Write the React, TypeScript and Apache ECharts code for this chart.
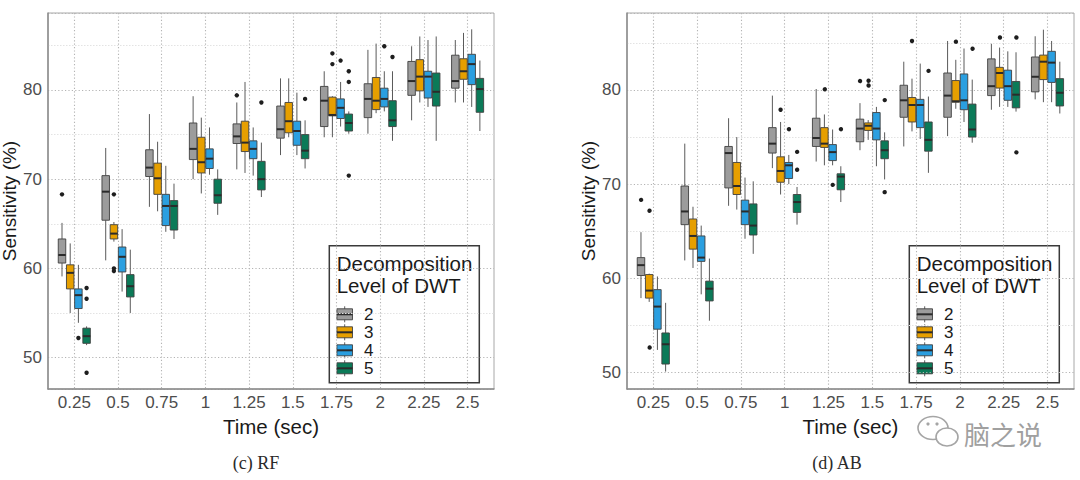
import React, { useEffect, useRef } from 'react';
import * as echarts from 'echarts';

// ---------- data ----------
const times = ['0.25', '0.5', '0.75', '1', '1.25', '1.5', '1.75', '2', '2.25', '2.5'];
const levels = ['2', '3', '4', '5'];
const levelColors = ['#9c9c9c', '#e69f00', '#2b9fe0', '#0b7a58'];

// each row: [lower whisker, Q1, median, Q3, upper whisker]
const rfLevel2 = [
  [59.1, 60.6, 61.5, 63.3, 65.1], [60.9, 65.4, 68.6, 70.4, 73.5], [66.9, 70.3, 71.3, 73.3, 77.3],
  [70.0, 72.2, 73.4, 76.3, 79.3], [71.1, 74.0, 74.8, 76.2, 78.6], [72.7, 74.6, 75.6, 78.2, 81.3],
  [74.7, 75.9, 78.8, 80.4, 82.1], [75.1, 76.9, 79.0, 80.7, 84.5], [76.6, 79.4, 81.0, 83.2, 84.9],
  [78.6, 80.2, 81.0, 83.9, 85.6],
];
const rfLevel3 = [
  [55.0, 57.7, 59.5, 60.4, 62.8], [63.0, 63.3, 63.9, 64.9, 65.2], [66.4, 68.3, 70.1, 71.8, 74.2],
  [68.4, 70.7, 71.9, 74.7, 76.9], [70.7, 73.1, 74.1, 76.5, 80.9], [74.7, 75.2, 76.5, 78.6, 81.3],
  [74.7, 77.1, 77.2, 79.2, 79.3], [77.4, 77.8, 78.8, 81.4, 85.2], [78.6, 79.9, 81.5, 83.4, 86.0],
  [78.6, 81.2, 82.1, 83.5, 86.4],
];
const rfLevel4 = [
  [53.9, 55.5, 57.0, 57.7, 60.4], [57.4, 59.6, 61.3, 62.4, 64.4], [64.1, 64.8, 67.0, 68.3, 71.5],
  [70.5, 71.2, 72.3, 73.4, 75.8], [70.4, 72.3, 73.4, 74.3, 75.8], [72.7, 73.8, 75.4, 76.5, 79.7],
  [75.9, 76.8, 78.0, 79.0, 80.9], [77.6, 78.1, 79.0, 80.2, 82.1], [78.1, 79.1, 81.5, 82.1, 85.6],
  [78.1, 80.6, 82.9, 84.0, 86.8],
];
const rfLevel5 = [
  [51.4, 51.6, 52.4, 53.3, 53.5], [55.0, 56.8, 58.0, 59.3, 62.1], [63.3, 64.3, 67.0, 67.6, 69.5],
  [66.0, 67.3, 68.2, 70.0, 71.1], [68.0, 68.8, 70.0, 72.0, 74.1], [71.2, 72.3, 73.2, 75.0, 76.6],
  [75.1, 75.4, 76.3, 77.3, 77.6], [74.3, 75.9, 76.6, 78.8, 82.1], [74.3, 78.2, 79.8, 81.9, 86.0],
  [75.4, 77.5, 80.1, 81.3, 83.3],
];
// [time index, level index, value]
const rfOutliers = [
  [0, 0, 68.3], [0, 2, 52.2], [0, 3, 57.8], [0, 3, 56.6], [0, 3, 48.3],
  [1, 1, 68.3], [1, 1, 60.0], [1, 1, 59.7],
  [4, 0, 79.4], [4, 3, 78.6], [5, 3, 79.0],
  [6, 1, 84.1], [6, 1, 82.9], [6, 2, 83.3], [6, 3, 82.1], [6, 3, 80.9], [6, 3, 70.4],
  [7, 2, 84.9], [7, 3, 83.7],
];

const abLevel2 = [
  [57.9, 60.3, 61.4, 62.2, 64.9], [61.9, 65.7, 67.1, 69.8, 74.3], [67.7, 69.6, 73.3, 74.0, 77.0],
  [71.7, 73.3, 74.3, 76.0, 79.4], [72.4, 74.0, 74.9, 77.0, 80.1], [73.6, 74.5, 75.9, 76.9, 78.6],
  [74.0, 77.1, 78.9, 80.5, 83.0], [75.1, 77.1, 79.4, 81.8, 85.2], [77.9, 79.4, 80.4, 83.3, 84.9],
  [79.0, 79.8, 81.4, 83.5, 85.7],
];
const abLevel3 = [
  [57.5, 57.9, 58.7, 60.4, 60.5], [61.1, 63.1, 64.5, 66.3, 67.6], [67.3, 68.9, 69.8, 72.3, 75.0],
  [68.9, 70.2, 71.4, 72.9, 76.6], [72.0, 73.9, 74.3, 76.0, 77.4], [74.7, 75.7, 76.2, 76.5, 76.8],
  [75.6, 76.6, 78.4, 79.2, 81.2], [78.0, 78.7, 78.8, 81.0, 83.2], [78.2, 80.2, 81.8, 82.4, 84.5],
  [78.7, 81.1, 83.0, 83.7, 86.4],
];
const abLevel4 = [
  [52.4, 54.6, 57.0, 58.8, 60.2], [58.3, 61.8, 62.2, 64.5, 65.6], [64.2, 65.7, 67.1, 68.3, 70.7],
  [70.0, 70.6, 72.0, 72.3, 73.1], [72.0, 72.5, 73.4, 74.2, 75.8], [71.9, 74.7, 75.9, 77.6, 78.2],
  [74.8, 76.0, 78.4, 79.0, 82.8], [76.6, 77.9, 78.9, 81.7, 84.4], [78.2, 78.9, 80.4, 82.1, 84.1],
  [78.7, 80.8, 82.9, 84.1, 85.2],
];
const abLevel5 = [
  [50.1, 50.9, 53.0, 54.2, 57.4], [55.5, 57.6, 58.9, 59.7, 62.1], [62.6, 64.6, 65.6, 67.9, 70.3],
  [65.7, 67.0, 68.1, 68.9, 69.7], [68.1, 69.4, 70.8, 71.1, 71.9], [70.5, 72.7, 73.6, 74.6, 75.5],
  [71.2, 73.5, 74.7, 76.6, 79.3], [74.4, 75.0, 75.8, 78.5, 81.1], [77.7, 78.1, 79.5, 80.9, 84.0],
  [77.5, 78.3, 79.7, 81.2, 83.0],
];
const abOutliers = [
  [0, 0, 68.4], [0, 1, 67.3], [0, 1, 52.8],
  [3, 1, 77.9], [3, 2, 75.9], [3, 3, 73.5], [3, 3, 71.6],
  [4, 1, 80.2], [4, 2, 70.0], [4, 3, 75.9],
  [5, 0, 81.0], [5, 1, 81.1], [5, 1, 80.6], [5, 3, 79.0], [5, 3, 69.2],
  [6, 1, 85.2], [6, 3, 82.1], [7, 1, 85.2], [7, 3, 84.5],
  [8, 1, 85.7], [8, 3, 85.7], [8, 3, 73.5],
];

const rfYRange = [46.48, 88.63];
const abYRange = [48.25, 88.17];
const yTitle = 'Sensitivity (%)';
const xTitle = 'Time (sec)';
const legendTitle = ['Decomposition', 'Level of DWT'];
const captions = ['(c) RF', '(d) AB'];

// ---------- styling ----------
const FONT = 'Liberation Sans, Arial, Helvetica, sans-serif';
const DODGE = 0.1875; // box width as a fraction of category spacing
const majorGrid = { color: '#b4b4b4', width: 1.1, type: [1.2, 2.2] as any };
const minorGrid = { color: '#e3e3e3', width: 1, type: [1.5, 1.5] as any };

const boxRenderer = (level: number) => (_params: any, api: any) => {
  const i = api.value(0);
  const lo = api.coord([i, api.value(1)]);
  const q1 = api.coord([i, api.value(2)]);
  const md = api.coord([i, api.value(3)]);
  const q3 = api.coord([i, api.value(4)]);
  const hi = api.coord([i, api.value(5)]);
  const step = api.coord([1, 0])[0] - api.coord([0, 0])[0];
  const w = step * DODGE;
  const cx = lo[0] + (level - 1.5) * w;
  const x0 = cx - w / 2 + 0.35;
  const bw = w - 0.7;
  return {
    type: 'group',
    children: [
      { type: 'line', shape: { x1: cx, y1: hi[1], x2: cx, y2: q3[1] }, style: { stroke: '#5a5a5a', lineWidth: 1 } },
      { type: 'line', shape: { x1: cx, y1: q1[1], x2: cx, y2: lo[1] }, style: { stroke: '#5a5a5a', lineWidth: 1 } },
      {
        type: 'rect',
        shape: { x: x0, y: q3[1], width: bw, height: q1[1] - q3[1] },
        style: { fill: levelColors[level], stroke: '#404040', lineWidth: 0.9 },
      },
      { type: 'line', shape: { x1: x0, y1: md[1], x2: x0 + bw, y2: md[1] }, style: { stroke: '#2b2b2b', lineWidth: 2 } },
    ],
  };
};

const outlierRenderer = (_params: any, api: any) => {
  const i = api.value(0);
  const l = api.value(1);
  const p = api.coord([i, api.value(2)]);
  const step = api.coord([1, 0])[0] - api.coord([0, 0])[0];
  const cx = p[0] + (l - 1.5) * step * DODGE;
  return { type: 'circle', shape: { cx, cy: p[1], r: 2.2 }, style: { fill: '#1e1e1e' } };
};

function legendGroup(x: number, y: number) {
  const children: any[] = [
    { type: 'rect', shape: { x: 0, y: 0, width: 150, height: 137 }, style: { fill: '#fff', stroke: '#3a3a3a', lineWidth: 1.5 } },
    { type: 'text', x: 7.4, y: 17.5, style: { text: legendTitle[0], font: `20.5px ${FONT}`, fill: '#1a1a1a', textVerticalAlign: 'middle' } },
    { type: 'text', x: 7.4, y: 39.5, style: { text: legendTitle[1], font: `20.5px ${FONT}`, fill: '#1a1a1a', textVerticalAlign: 'middle' } },
  ];
  levels.forEach((lv, k) => {
    const cy = 68.6 + k * 18;
    children.push(
      { type: 'line', shape: { x1: 15.4, y1: cy - 8, x2: 15.4, y2: cy + 8 }, style: { stroke: '#5a5a5a', lineWidth: 1 } },
      { type: 'rect', shape: { x: 7.6, y: cy - 5.5, width: 15.6, height: 11 }, style: { fill: levelColors[k], stroke: '#404040', lineWidth: 0.9 } },
      { type: 'line', shape: { x1: 7.6, y1: cy, x2: 23.2, y2: cy }, style: { stroke: '#2b2b2b', lineWidth: 2 } },
      { type: 'text', x: 34.7, y: cy, style: { text: lv, font: `17px ${FONT}`, fill: '#1a1a1a', textVerticalAlign: 'middle' } },
    );
  });
  return { type: 'group', x, y, z: 100, children };
}

function buildOption() {
  const panels = [
    { frameLeft: 48, frameWidth: 446, innerLeft: 74.3, innerWidth: 393.3, yr: rfYRange, boxes: [rfLevel2, rfLevel3, rfLevel4, rfLevel5], out: rfOutliers, nameGap: 23 },
    { frameLeft: 627, frameWidth: 447, innerLeft: 653.3, innerWidth: 394.2, yr: abYRange, boxes: [abLevel2, abLevel3, abLevel4, abLevel5], out: abOutliers, nameGap: 26 },
  ];
  const top = 13;
  const height = 376;
  const grid: any[] = [];
  const xAxis: any[] = [];
  const yAxis: any[] = [];
  const series: any[] = [];
  panels.forEach((p, pi) => {
    const fi = pi * 2;
    const ii = pi * 2 + 1;
    grid.push(
      { left: p.frameLeft, top, width: p.frameWidth, height, show: true, borderColor: '#a8a8a8', borderWidth: 1, backgroundColor: 'transparent', containLabel: false, outerBoundsMode: 'none' },
      { left: p.innerLeft, top, width: p.innerWidth, height, show: false, containLabel: false, outerBoundsMode: 'none' },
    );
    xAxis.push(
      {
        type: 'value', gridIndex: fi, min: 0, max: 1,
        axisLine: { show: true, onZero: false, lineStyle: { color: '#8c8c8c', width: 1.5 } },
        axisTick: { show: false }, axisLabel: { show: false }, splitLine: { show: false },
      },
      {
        type: 'category', gridIndex: ii, data: times, boundaryGap: false,
        axisLine: { show: false }, axisTick: { show: false },
        axisLabel: { interval: 0, color: '#4d4d4d', fontSize: 17, fontFamily: FONT, margin: 5 },
        splitLine: { show: true, interval: 0, lineStyle: majorGrid },
        name: xTitle, nameLocation: 'middle', nameGap: 24,
        nameTextStyle: { fontSize: 20.5, color: '#1a1a1a', fontFamily: FONT },
      },
    );
    yAxis.push(
      {
        type: 'value', gridIndex: fi, min: p.yr[0], max: p.yr[1],
        axisLine: { show: true, onZero: false, lineStyle: { color: '#8c8c8c', width: 1.5 } },
        axisTick: { show: false },
        axisLabel: {
          color: '#4d4d4d', fontSize: 17, fontFamily: FONT, margin: 6,
          formatter: (v: number) => (Math.abs(v - Math.round(v / 10) * 10) < 1e-6 ? String(Math.round(v)) : ''),
        },
        splitLine: { show: true, lineStyle: majorGrid },
        minorTick: { show: false, splitNumber: 2 },
        minorSplitLine: { show: true, lineStyle: minorGrid },
        name: yTitle, nameLocation: 'middle', nameGap: p.nameGap, nameRotate: 90,
        nameTextStyle: { fontSize: 19, lineHeight: 19, color: '#1a1a1a', fontFamily: FONT },
      },
      { type: 'value', gridIndex: ii, min: p.yr[0], max: p.yr[1], show: false, splitLine: { show: false } },
    );
    p.boxes.forEach((rows, l) => {
      series.push({
        type: 'custom', name: levels[l], xAxisIndex: ii, yAxisIndex: ii, silent: true, z: 3,
        data: rows.map((r, i) => [i, ...r]),
        renderItem: boxRenderer(l),
      });
    });
    series.push({
      type: 'custom', name: 'outliers', xAxisIndex: ii, yAxisIndex: ii, silent: true, z: 4,
      data: p.out, renderItem: outlierRenderer,
    });
  });

  const graphic: any[] = [
    legendGroup(329.3, 245.7),
    legendGroup(909.3, 245.7),
    { type: 'text', x: 256, y: 463, z: 100, style: { text: captions[0], font: '18px Liberation Serif, serif', fill: '#2a2a2a', textAlign: 'center', textVerticalAlign: 'middle' } },
    { type: 'text', x: 837, y: 463, z: 100, style: { text: captions[1], font: '18px Liberation Serif, serif', fill: '#2a2a2a', textAlign: 'center', textVerticalAlign: 'middle' } },
    // watermark
    { type: 'ellipse', z: 100, shape: { cx: 933, cy: 428, rx: 15, ry: 11.5 }, style: { fill: 'none', stroke: '#a5a5a5', lineWidth: 1.6 } },
    { type: 'ellipse', z: 101, shape: { cx: 947, cy: 437, rx: 11, ry: 9 }, style: { fill: '#fff', stroke: '#a5a5a5', lineWidth: 1.6 } },
    { type: 'circle', z: 102, shape: { cx: 928, cy: 424, r: 1.6 }, style: { fill: '#a5a5a5' } },
    { type: 'circle', z: 102, shape: { cx: 937, cy: 424, r: 1.6 }, style: { fill: '#a5a5a5' } },
    { type: 'text', x: 964, y: 433, z: 100, style: { text: '脑之说', font: '26px "Noto Sans CJK SC", sans-serif', fill: '#a0a0a0', textVerticalAlign: 'middle' } },
  ];

  return { animation: false, backgroundColor: '#fff', grid, xAxis, yAxis, series, graphic };
}

export default function App() {
  const ref = useRef<HTMLDivElement>(null);
  useEffect(() => {
    if (!ref.current) return;
    const chart = echarts.init(ref.current, undefined, { renderer: 'svg' });
    chart.setOption(buildOption() as any);
    return () => chart.dispose();
  }, []);
  return (
    <div
      ref={ref}
      style={{ position: 'fixed', left: 0, top: 0, width: 1080, height: 480, background: '#fff' }}
    />
  );
}
